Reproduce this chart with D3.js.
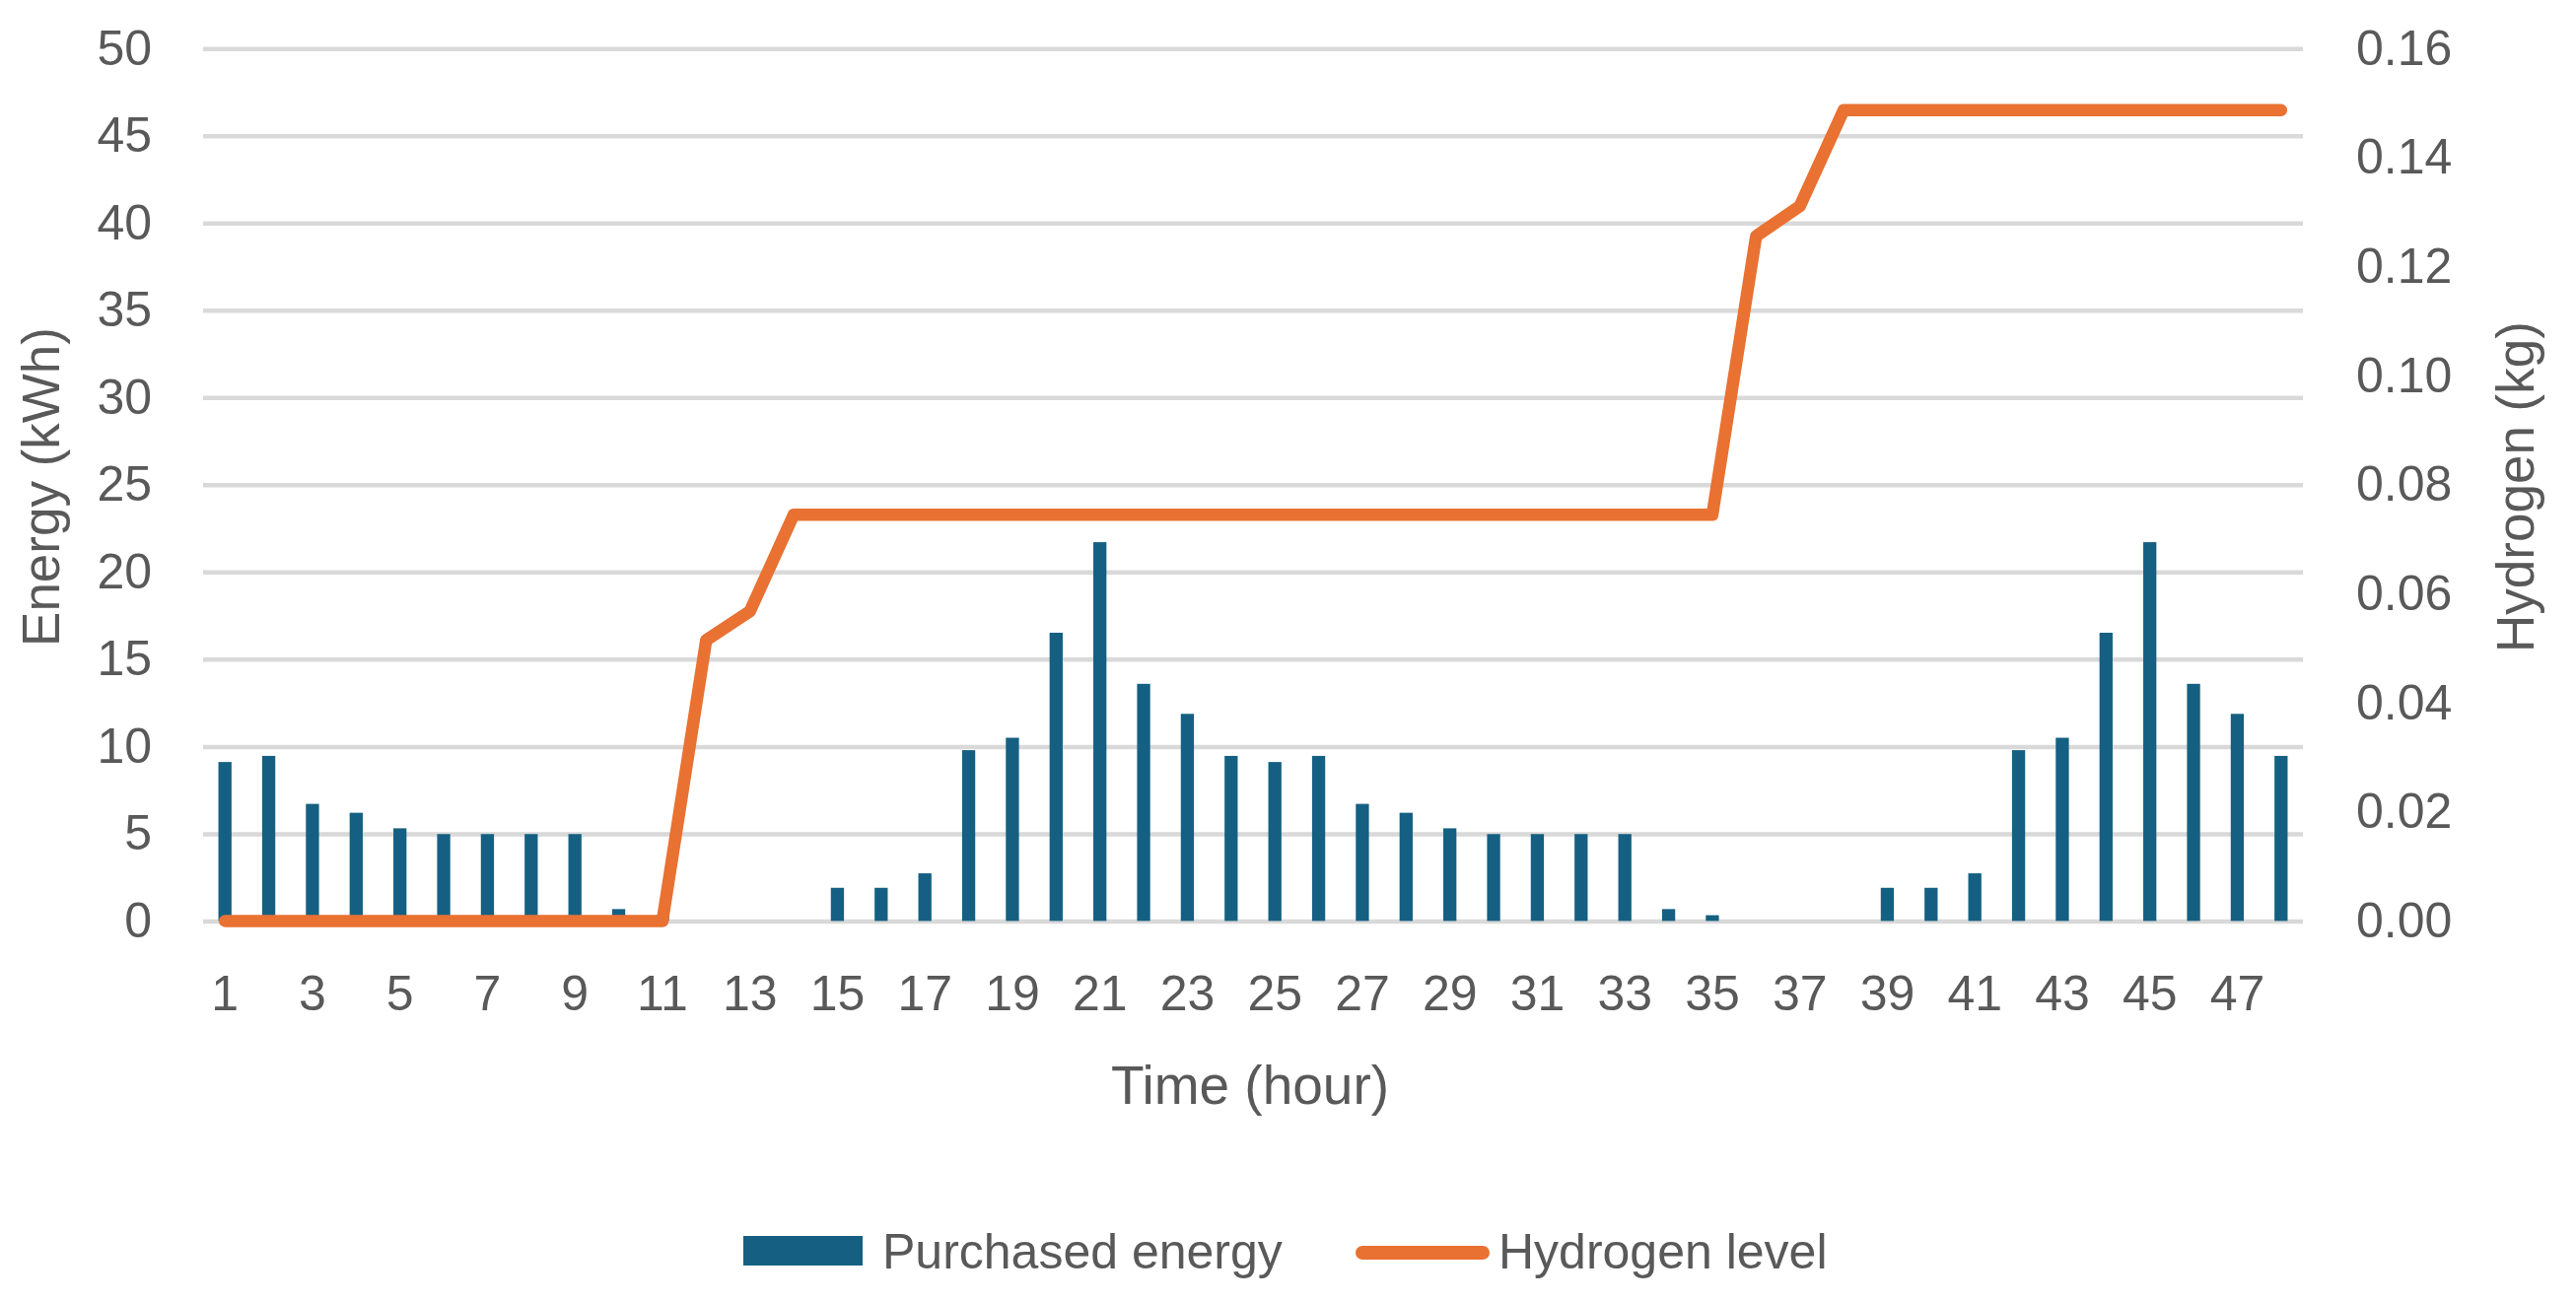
<!DOCTYPE html>
<html>
<head>
<meta charset="utf-8">
<script src="https://cdn.jsdelivr.net/npm/d3@7/dist/d3.min.js"></script>
<style>
  html, body { margin: 0; padding: 0; background: #ffffff; }
  svg { display: block; }
  text { font-family: "Liberation Sans", Arial, sans-serif; fill: #595959; }
</style>
</head>
<body>
<svg id="chart" width="2613" height="1320"></svg>
<script>
// ---- data ----
const hours = d3.range(1, 49);
const purchasedEnergy = [
  9.11, 9.46, 6.71, 6.20, 5.31, 4.98, 4.98, 4.98, 4.98, 0.68, 0.33, 0, 0, 0, 1.90, 1.90,
  2.73, 9.79, 10.50, 16.52, 21.71, 13.59, 11.87, 9.46,
  9.11, 9.46, 6.71, 6.20, 5.31, 4.98, 4.98, 4.98, 4.98, 0.68, 0.33, 0, 0, 0, 1.90, 1.90,
  2.73, 9.79, 10.50, 16.52, 21.71, 13.59, 11.87, 9.46
];
const hydrogenLevel = [
  0, 0, 0, 0, 0, 0, 0, 0, 0, 0, 0, 0.0515, 0.0568, 0.0745, 0.0745, 0.0745,
  0.0745, 0.0745, 0.0745, 0.0745, 0.0745, 0.0745, 0.0745, 0.0745,
  0.0745, 0.0745, 0.0745, 0.0745, 0.0745, 0.0745, 0.0745, 0.0745, 0.0745, 0.0745, 0.0745, 0.1256,
  0.1311, 0.1487, 0.1487, 0.1487, 0.1487, 0.1487, 0.1487, 0.1487, 0.1487, 0.1487, 0.1487, 0.1487
];
const leftTicks = [0, 5, 10, 15, 20, 25, 30, 35, 40, 45, 50];
const rightTicks = [0, 0.02, 0.04, 0.06, 0.08, 0.10, 0.12, 0.14, 0.16];
const xTickLabels = hours.filter(h => h % 2 === 1);
const seriesNames = ["Purchased energy", "Hydrogen level"];
const colors = { bar: "#156082", line: "#E97132", grid: "#D9D9D9" };

// ---- layout ----
const svg = d3.select("#chart");
const plot = { left: 206, right: 2336, top: 49.3, bottom: 934.4 };

const x = d3.scaleBand().domain(hours).range([plot.left, plot.right]).padding(0);
const barW = x.bandwidth() * 0.3;
const yL = d3.scaleLinear().domain([0, 50]).range([plot.bottom, plot.top]);
const yR = d3.scaleLinear().domain([0, 0.16]).range([plot.bottom, plot.top]);

svg.append("rect").attr("width", 2613).attr("height", 1320).attr("fill", "#fff");

// gridlines
const grid = svg.append("g").attr("transform", `translate(${plot.left},0)`)
  .call(d3.axisLeft(yL).tickValues(leftTicks).tickSize(-(plot.right - plot.left)).tickFormat(""));
grid.select(".domain").remove();
grid.selectAll("line").attr("stroke", colors.grid).attr("stroke-width", 4.5);

// left axis labels
const axL = svg.append("g").attr("transform", `translate(${plot.left},0)`)
  .call(d3.axisLeft(yL).tickValues(leftTicks).tickSize(0).tickPadding(52));
axL.select(".domain").remove();
axL.selectAll("text").style("font-size", "50px").attr("fill", "#595959");

// right axis labels
const axR = svg.append("g").attr("transform", `translate(${plot.right},0)`)
  .call(d3.axisRight(yR).tickValues(rightTicks).tickSize(0).tickPadding(54).tickFormat(d3.format(".2f")));
axR.select(".domain").remove();
axR.selectAll("text").style("font-size", "50px").attr("fill", "#595959");

// bottom axis labels
const axB = svg.append("g").attr("transform", `translate(0,${plot.bottom})`)
  .call(d3.axisBottom(x).tickValues(xTickLabels).tickSize(0));
axB.select(".domain").remove();
axB.selectAll("text").style("font-size", "50px").attr("fill", "#595959")
  .attr("y", 1025 - plot.bottom).attr("dy", 0);

// bars
svg.append("g").selectAll("rect")
  .data(hours.map((h, i) => ({ h, v: purchasedEnergy[i] })))
  .join("rect")
  .attr("x", d => x(d.h) + x.bandwidth() / 2 - barW / 2)
  .attr("y", d => yL(d.v))
  .attr("width", barW)
  .attr("height", d => yL(0) - yL(d.v))
  .attr("fill", colors.bar);

// line
const line = d3.line()
  .x(d => x(d.h) + x.bandwidth() / 2)
  .y(d => yR(d.v));
svg.append("path")
  .datum(hours.map((h, i) => ({ h, v: hydrogenLevel[i] })))
  .attr("d", line)
  .attr("fill", "none")
  .attr("stroke", colors.line)
  .attr("stroke-width", 12.5)
  .attr("stroke-linejoin", "round")
  .attr("stroke-linecap", "round");

// axis titles
svg.append("text")
  .attr("transform", "translate(60,494) rotate(-90)")
  .attr("text-anchor", "middle")
  .style("font-size", "53px")
  .text("Energy (kWh)");
svg.append("text")
  .attr("transform", "translate(2570,494) rotate(-90)")
  .attr("text-anchor", "middle")
  .style("font-size", "53px")
  .text("Hydrogen (kg)");
svg.append("text")
  .attr("x", 1268).attr("y", 1120)
  .attr("text-anchor", "middle")
  .style("font-size", "55px")
  .text("Time (hour)");

// legend
const lg = svg.append("g");
lg.append("rect").attr("x", 754).attr("y", 1254).attr("width", 121).attr("height", 30).attr("fill", colors.bar);
lg.append("text").attr("x", 895).attr("y", 1287).style("font-size", "50px").text(seriesNames[0]);
lg.append("line").attr("x1", 1382).attr("x2", 1504).attr("y1", 1271).attr("y2", 1271)
  .attr("stroke", colors.line).attr("stroke-width", 14).attr("stroke-linecap", "round");
lg.append("text").attr("x", 1520).attr("y", 1287).style("font-size", "50px").text(seriesNames[1]);
</script>
</body>
</html>
